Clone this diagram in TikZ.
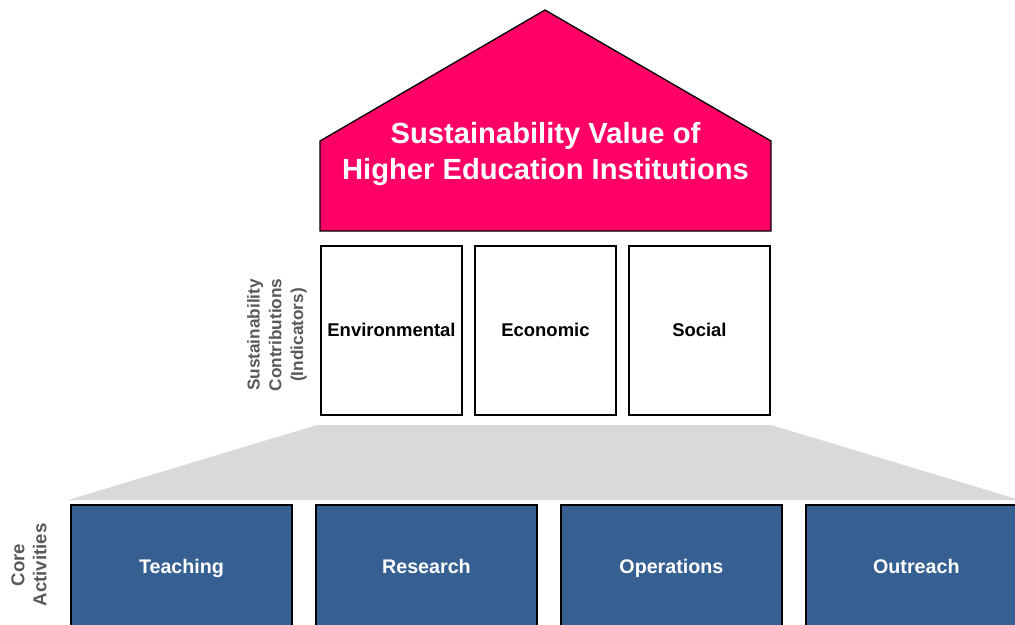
\documentclass[tikz,border=0pt]{standalone}
\usepackage{fontspec}
\setmainfont{Liberation Sans}
\usetikzlibrary{positioning}

\definecolor{housepink}{HTML}{FF0066}
\definecolor{coreblue}{HTML}{376092}
\definecolor{basegrey}{HTML}{D9D9D9}
\definecolor{labelgrey}{HTML}{595959}

\begin{document}
\begin{tikzpicture}[
    x=0.02cm,
    y=-0.02cm,
    line width=0.75pt,
    pillar/.style={rectangle, draw, fill=white, minimum width=2.82cm, minimum height=3.38cm,
      inner sep=0pt, outer sep=0pt, text height=0.9em, text depth=0.18em,
      font=\bfseries\fontsize{10.5}{12}\selectfont},
    core/.style={rectangle, draw, fill=coreblue, text=white, minimum width=4.42cm, minimum height=2.48cm,
      inner sep=0pt, outer sep=0pt, text height=0.9em, text depth=0.18em,
      font=\bfseries\fontsize{11.2}{13}\selectfont},
    sidelabel/.style={rotate=90, align=center, text=labelgrey, font=\bfseries\fontsize{9.8}{12.4}\selectfont}
  ]

  % --- MOLDURA ---
  \useasboundingbox (0,0) rectangle (1015,625);
  \clip (0,0) rectangle (1015,625);

  % --- TELHADO ---
  \draw[fill=housepink] (320,231) -- (320,141) -- (545,10) -- (771,141) -- (771,231) -- cycle;
  \node[text=white, align=center, font=\bfseries\fontsize{16.6}{20.4}\selectfont] (roof) at (545.5,154)
    {Sustainability Value of\\Higher Education Institutions};

  % --- PILARES ---
  \node[pillar] (env) at (391.5,330.5) {Environmental};
  \node[pillar, right=0.26cm of env] (eco) {Economic};
  \node[pillar, right=0.26cm of eco] (soc) {Social};

  % --- BASE ---
  \fill[basegrey] (317,425) -- (771,425) -- (1020,500) -- (68,500) -- cycle;

  % --- ATIVIDADES ---
  \node[core] (teach) at (181.5,567) {Teaching};
  \node[core, right=0.48cm of teach] (res) {Research};
  \node[core, right=0.48cm of res] (ops) {Operations};
  \node[core, right=0.48cm of ops] (out) {Outreach};

  % --- ROTULOS ---
  \node[sidelabel] (contrib) at (277,335) {Sustainability\\Contributions\\(Indicators)};
  \node[sidelabel, font=\bfseries\fontsize{10.6}{12.6}\selectfont] (coreact) at (29,565) {Core\\Activities};

\end{tikzpicture}
\end{document}
